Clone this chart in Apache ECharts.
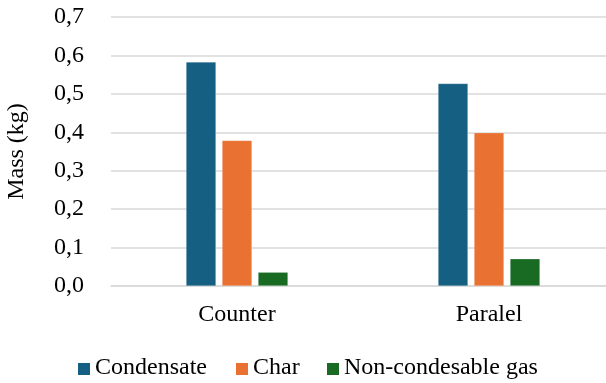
<!DOCTYPE html>
<html>
<head>
<meta charset="utf-8">
<script src="https://cdn.jsdelivr.net/npm/echarts@6/dist/echarts.min.js"></script>
<style>html,body{margin:0;padding:0;background:#fff;}#c{width:606px;height:383px;}</style>
</head>
<body>
<div id="c"></div>
<script>
const categories = ['Counter', 'Paralel'];
const condensate = [0.583, 0.527];
const charMass = [0.379, 0.399];
const nonCondGas = [0.036, 0.071];
const seriesNames = ['Condensate', 'Char', 'Non-condesable gas'];
const yTicks = { min: 0, max: 0.7, interval: 0.1 };

const colors = ['#156082', '#E97132', '#196B24'];
const legendX = [78, 236, 327];
const font = "'Liberation Serif', 'Times New Roman', serif";
const fs = 24;
const chart = echarts.init(document.getElementById('c'), null, { renderer: 'canvas' });
const barStyle = (c) => ({ color: c, borderColor: 'rgba(255,255,255,0.35)', borderWidth: 0.6 });

const legendGraphics = [];
seriesNames.forEach((n, i) => {
  legendGraphics.push({ type: 'rect', left: legendX[i], top: 363, shape: { width: 12, height: 12 }, style: { fill: colors[i] } });
  legendGraphics.push({ type: 'text', left: legendX[i] + 17, top: 356,
    style: { text: n, font: fs + 'px ' + font, fill: '#000' } });
});

chart.setOption({
  animation: false,
  backgroundColor: '#fff',
  color: colors,
  textStyle: { fontFamily: font, color: '#000' },
  grid: { left: 111, right: -9, top: 17, bottom: 97, containLabel: false, outerBoundsMode: 'none' },
  graphic: legendGraphics,
  xAxis: {
    type: 'category',
    data: categories,
    axisTick: { show: false },
    axisLine: { lineStyle: { color: '#d9d9d9', width: 1.5 } },
    axisLabel: { fontFamily: font, fontSize: fs, color: '#000', margin: 17 }
  },
  yAxis: {
    type: 'value',
    min: yTicks.min, max: yTicks.max, interval: yTicks.interval,
    name: 'Mass (kg)',
    nameLocation: 'middle',
    nameGap: 82,
    nameTextStyle: { fontFamily: font, fontSize: fs, color: '#000' },
    axisLabel: { fontFamily: font, fontSize: fs, color: '#000', margin: 27,
      formatter: (v) => v.toFixed(1).replace('.', ',') },
    splitLine: { lineStyle: { color: '#d9d9d9', width: 1.5 } },
    axisLine: { show: false }, axisTick: { show: false }
  },
  series: [
    { name: seriesNames[0], type: 'bar', data: condensate, barWidth: 30, barGap: '20%', itemStyle: barStyle(colors[0]) },
    { name: seriesNames[1], type: 'bar', data: charMass, barWidth: 30, barGap: '20%', itemStyle: barStyle(colors[1]) },
    { name: seriesNames[2], type: 'bar', data: nonCondGas, barWidth: 30, barGap: '20%', itemStyle: barStyle(colors[2]) }
  ]
});
</script>
</body>
</html>
